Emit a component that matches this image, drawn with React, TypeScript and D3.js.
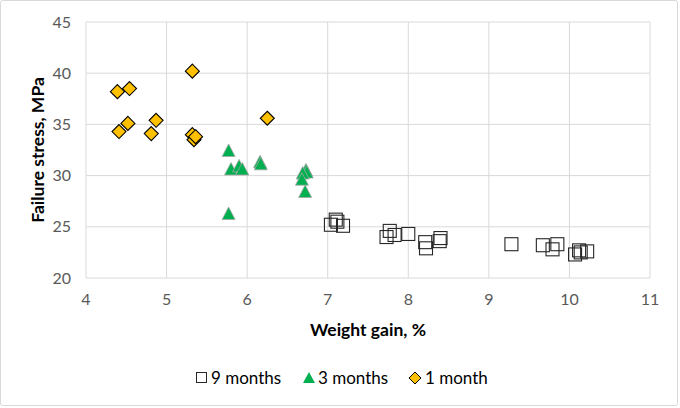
import * as d3 from "d3";
import { FC } from "react";

// weight gain (%) and failure stress (MPa) per exposure time
const NINE_X: number[] = [
  7.04, 7.1, 7.12, 7.19, 7.73, 7.77, 7.83, 8.0, 8.21, 8.22, 8.39, 8.4, 9.28,
  9.67, 9.79, 9.85, 10.07, 10.12, 10.14, 10.22,
];
const NINE_Y: number[] = [
  25.2, 25.7, 25.5, 25.1, 24.0, 24.6, 24.2, 24.3, 23.5, 22.9, 23.6, 23.9, 23.3,
  23.2, 22.8, 23.3, 22.3, 22.7, 22.5, 22.6,
];
const THREE_X: number[] = [
  5.77, 5.8, 5.9, 5.94, 6.16, 6.17, 5.77, 6.73, 6.74, 6.69, 6.68, 6.72,
];
const THREE_Y: number[] = [
  32.4, 30.6, 30.9, 30.6, 31.3, 31.1, 26.25, 30.5, 30.3, 30.2, 29.6, 28.4,
];
const ONE_X: number[] = [
  4.39, 4.54, 4.41, 4.52, 4.81, 4.87, 5.32, 5.32, 5.34, 5.36, 6.25,
];
const ONE_Y: number[] = [
  38.2, 38.5, 34.3, 35.1, 34.1, 35.4, 40.2, 34.0, 33.5, 33.8, 35.6,
];
const X_TICKS: number[] = [4, 5, 6, 7, 8, 9, 10, 11];
const Y_TICKS: number[] = [20, 25, 30, 35, 40, 45];
const LEGEND: string[] = ["9 months", "3 months", "1 month"];

const W = 680;
const H = 408;
const FONT = "Lato, 'Open Sans', sans-serif";

const x = d3.scaleLinear().domain([4, 11]).range([86, 650]);
const y = d3.scaleLinear().domain([20, 45]).range([278, 22]);

const Square: FC<{ cx: number; cy: number; s?: number }> = ({ cx, cy, s = 13 }) => (
  <rect
    x={cx - s / 2}
    y={cy - s / 2}
    width={s}
    height={s}
    fill="#fff"
    fillOpacity={0}
    stroke="#262626"
    strokeWidth={1.1}
  />
);

const Tri: FC<{ cx: number; cy: number; s?: number }> = ({ cx, cy, s = 13 }) => (
  <path
    d={`M${cx},${cy - s / 2 - 0.5}L${cx + s / 2},${cy + s / 2 - 1}L${cx - s / 2},${cy + s / 2 - 1}Z`}
    fill="#00B050"
    stroke="#A6A6A6"
    strokeWidth={0.8}
  />
);

const Diamond: FC<{ cx: number; cy: number; s?: number }> = ({ cx, cy, s = 14 }) => (
  <path
    d={`M${cx},${cy - s / 2}L${cx + s / 2},${cy}L${cx},${cy + s / 2}L${cx - s / 2},${cy}Z`}
    fill="#FFC000"
    stroke="#000"
    strokeWidth={1.1}
  />
);

const App: FC = () => {
  return (
    <svg
      width={W}
      height={H}
      style={{ position: "absolute", left: 0, top: 0, fontFamily: FONT }}
    >
      <rect x={0.5} y={0.5} width={W - 3} height={H - 3} fill="#fff" stroke="#D9D9D9" rx={2} />

      {/* grid */}
      {Y_TICKS.map((t) => (
        <line key={"gy" + t} x1={x(4)} x2={x(11)} y1={y(t)} y2={y(t)} stroke="#D9D9D9" strokeWidth={1} />
      ))}
      {X_TICKS.map((t) => (
        <line key={"gx" + t} x1={x(t)} x2={x(t)} y1={y(20)} y2={y(45)} stroke="#D9D9D9" strokeWidth={1} />
      ))}

      {/* tick labels */}
      {Y_TICKS.map((t) => (
        <text key={"ty" + t} x={71} y={y(t)} dy="0.35em" textAnchor="end" fontSize={16} fill="#595959">
          {t}
        </text>
      ))}
      {X_TICKS.map((t) => (
        <text key={"tx" + t} x={x(t)} y={299} dy="0.35em" textAnchor="middle" fontSize={16} fill="#595959">
          {t}
        </text>
      ))}

      {/* axis titles */}
      <text
        transform={`translate(38,${(y(20) + y(45)) / 2}) rotate(-90)`}
        textAnchor="middle"
        dy="0.35em"
        fontSize={17.5}
        fontWeight="bold"
        fill="#000"
      >
        Failure stress, MPa
      </text>
      <text x={(x(4) + x(11)) / 2} y={330} dy="0.35em" textAnchor="middle" fontSize={17.5} fontWeight="bold" fill="#000">
        Weight gain, %
      </text>

      {/* series */}
      {NINE_X.map((v, i) => (
        <Square key={"n" + i} cx={x(v)} cy={y(NINE_Y[i])} />
      ))}
      {THREE_X.map((v, i) => (
        <Tri key={"t" + i} cx={x(v)} cy={y(THREE_Y[i])} />
      ))}
      {ONE_X.map((v, i) => (
        <Diamond key={"o" + i} cx={x(v)} cy={y(ONE_Y[i])} />
      ))}

      {/* legend */}
      <g fontSize={17} fill="#000">
        <rect x={196.5} y={372.5} width={10} height={10} fill="#fff" stroke="#262626" />
        <text x={211} y={378} dy="0.35em">{LEGEND[0]}</text>
        <path d="M309,372L315,383L303,383Z" fill="#00B050" />
        <text x={318} y={378} dy="0.35em">{LEGEND[1]}</text>
        <path d="M415,372L421,378L415,384L409,378Z" fill="#FFC000" stroke="#000" />
        <text x={425} y={378} dy="0.35em">{LEGEND[2]}</text>
      </g>
    </svg>
  );
};

export default App;
